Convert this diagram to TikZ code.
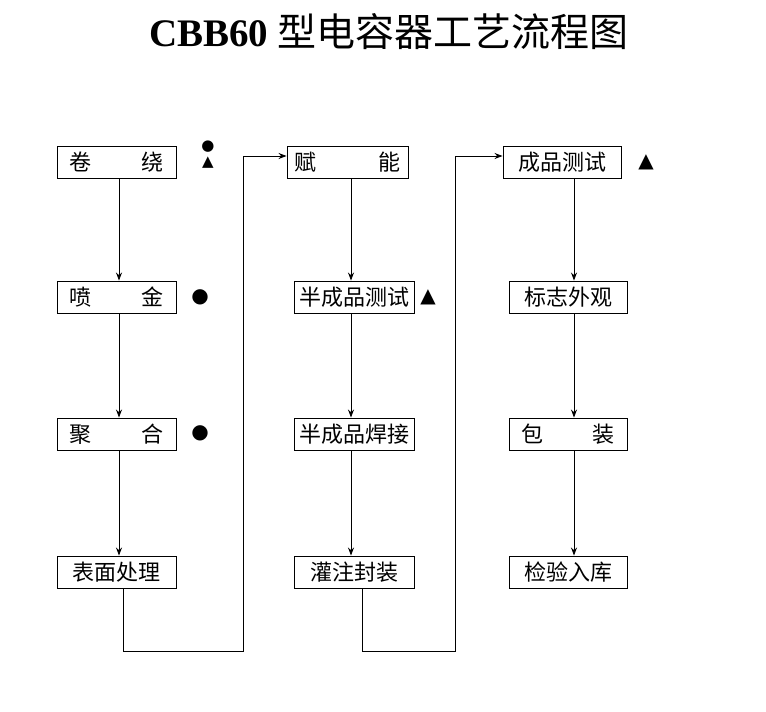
\documentclass[tikz,border=0pt]{standalone}
\usepackage{fontspec}
\setmainfont{Liberation Serif}
\newfontfamily\cjk{Noto Sans CJK SC}
\newfontfamily\sym{DejaVu Sans}
\usetikzlibrary{arrows.meta}
\begin{document}
\begin{tikzpicture}[x=1pt,y=-1pt,
  box/.style={draw,line width=0.9pt,minimum height=32pt,inner sep=0pt,font=\cjk\fontsize{22}{24}\selectfont},
  conn/.style={line width=0.9pt,-{Stealth[length=8pt,width=6pt]}},
  symb/.style={font=\sym\fontsize{20}{22}\selectfont,inner sep=0pt}]
\useasboundingbox[fill=white] (0,0) rectangle (766,712);
\node[inner sep=0pt] (title) at (389,32) {\fontsize{39}{42}\selectfont\bfseries CBB60 {\cjk\mdseries 型电容器工艺流程图}};
% column 1
\node[box,minimum width=119pt] (a1) at (116.5,162) {卷\hspace{50pt}绕};
\node[box,minimum width=119pt] (a2) at (116.5,297) {喷\hspace{50pt}金};
\node[box,minimum width=119pt] (a3) at (116.5,434) {聚\hspace{50pt}合};
\node[box,minimum width=119pt] (a4) at (116.5,572) {表面处理};
% column 2
\node[box,minimum width=121pt] (b1) at (347.5,162) {赋\hspace{62pt}能};
\node[box,minimum width=120pt] (b2) at (354,297) {半成品测试};
\node[box,minimum width=120pt] (b3) at (354,434) {半成品焊接};
\node[box,minimum width=120pt] (b4) at (354,572) {灌注封装};
% column 3
\node[box,minimum width=118pt] (c1) at (562,162) {成品测试};
\node[box,minimum width=118pt] (c2) at (568,297) {标志外观};
\node[box,minimum width=118pt] (c3) at (568,434) {包\hspace{50pt}装};
\node[box,minimum width=118pt] (c4) at (568,572) {检验入库};
% marks
\node[symb,font=\sym\fontsize{15}{16}\selectfont] (m1) at (208,147) {●};
\node[symb,font=\sym\fontsize{15}{16}\selectfont] (m2) at (208,163) {▲};
\node[symb] (m3) at (200,297) {●};
\node[symb] (m4) at (200,433) {●};
\node[symb] (m5) at (428,297) {▲};
\node[symb] (m6) at (646,162) {▲};
% vertical arrows
\draw[conn] (a1.south -| 119,0) -- (a2.north -| 119,0);
\draw[conn] (a2.south -| 119,0) -- (a3.north -| 119,0);
\draw[conn] (a3.south -| 119,0) -- (a4.north -| 119,0);
\draw[conn] (b1.south -| 351,0) -- (b2.north -| 351,0);
\draw[conn] (b2.south -| 351,0) -- (b3.north -| 351,0);
\draw[conn] (b3.south -| 351,0) -- (b4.north -| 351,0);
\draw[conn] (c1.south -| 574,0) -- (c2.north -| 574,0);
\draw[conn] (c2.south -| 574,0) -- (c3.north -| 574,0);
\draw[conn] (c3.south -| 574,0) -- (c4.north -| 574,0);
% loops
\coordinate (l1a) at (123,651);
\coordinate (l1b) at (243,651);
\coordinate (l1c) at (243,156);
\draw[conn] (a4.south -| l1a) -- (l1a) -- (l1b) -- (l1c) -- (b1.west |- l1c);
\coordinate (l2a) at (362,651);
\coordinate (l2b) at (455,651);
\coordinate (l2c) at (455,156);
\draw[conn] (b4.south -| l2a) -- (l2a) -- (l2b) -- (l2c) -- (c1.west |- l2c);
\end{tikzpicture}
\end{document}
